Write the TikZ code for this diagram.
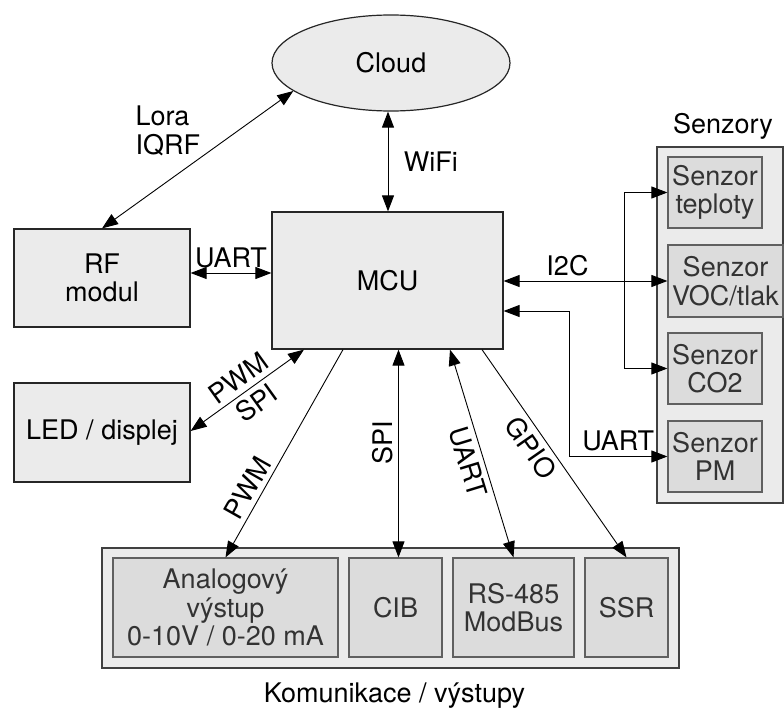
\documentclass[tikz,border=0pt]{standalone}
\usepackage{fontspec}
\setmainfont{TeX Gyre Heros}
\usepackage{tikz}
\usetikzlibrary{arrows.meta,shapes.geometric,positioning}
\definecolor{boxgray}{HTML}{EBEBEB}
\definecolor{partgray}{HTML}{DCDCDC}
\definecolor{edgegray}{HTML}{606060}

\begin{document}
\begin{tikzpicture}[x=1pt,y=1pt,
  font=\fontsize{27}{28.5}\selectfont,
  block/.style={draw=black!85,fill=boxgray,line width=1.2pt,align=center,inner sep=0pt},
  group/.style={draw=black!75,fill=boxgray,line width=1.2pt,inner sep=0pt},
  part/.style={draw=edgegray,fill=partgray,line width=1.2pt,align=center,inner sep=0pt,text=black!80},
  lbl/.style={inner sep=5pt},
  link/.style={line width=0.9pt,{Triangle[length=16pt,width=12pt]}-{Triangle[length=16pt,width=12pt]}},
  onelink/.style={line width=0.9pt,-{Triangle[length=16pt,width=12pt]}}]
\useasboundingbox (0,0) rectangle (784,-709);
\node[block,ellipse,minimum width=238pt,minimum height=96pt] (cloud) at (391,-63) {Cloud};
\node[block,minimum width=231pt,minimum height=137pt] (mcu) at (387.5,-280.5) {MCU};
\node[block,minimum width=176pt,minimum height=98pt] (rf) at (102,-278) {RF\\modul};
\node[block,minimum width=176pt,minimum height=99pt] (led) at (102,-432.5) {LED / displej};
\node[group,minimum width=126pt,minimum height=356pt] (senzory) at (720,-325) {};
\node[anchor=base] (senzorylabel) at (723,-133) {Senzory};
\node[part,minimum width=94pt,minimum height=71pt] (teplota) at (715,-192.5) {Senzor\\teploty};
\node[part,minimum width=115pt,minimum height=72pt] (voc) at (725.5,-281) {Senzor\\VOC/tlak};
\node[part,minimum width=94pt,minimum height=71pt] (co2) at (715,-368.5) {Senzor\\CO2};
\node[part,minimum width=94pt,minimum height=71pt] (pm) at (715,-456.5) {Senzor\\PM};
\node[group,minimum width=577pt,minimum height=120pt] (komunikace) at (390.5,-608) {};
\node[anchor=base] (komunikacelabel) at (394.5,-702) {Komunikace / výstupy};
\node[part,minimum width=225pt,minimum height=99pt] (analog) at (225.5,-607.5) {Analogový\\výstup\\0-10V / 0-20 mA};
\node[part,minimum width=93pt,minimum height=99pt] (cib) at (395.5,-607.5) {CIB};
\node[part,minimum width=121pt,minimum height=99pt] (modbus) at (513.5,-607.5) {RS-485\\ModBus};
\node[part,minimum width=83pt,minimum height=99pt] (ssr) at (626.5,-607.5) {SSR};
\draw[link] (cloud.196) -- (rf.north) node[pos=0.48,anchor=south east,inner sep=1pt,align=left] (lora) {Lora\\IQRF};
\draw[link] ([xshift=-3pt]cloud.south) -- ([xshift=-3pt]cloud.south |- mcu.north) node[midway,right=12pt] (wifi) {WiFi};
\draw[link] ([yshift=5pt]rf.east) -- ([yshift=5pt]rf.east -| mcu.west) node[midway,above,lbl] (uartrf) {UART};
\draw[link] ([xshift=-83.5pt]mcu.south) -- ([yshift=1.5pt]led.east) node[midway,sloped,above,lbl] (pwmled) {PWM} node[midway,sloped,below,lbl] (spiled) {SPI};
\draw[link] (mcu.east |- voc.west) -- (voc.west) node[pos=0.39,above,lbl] (i2c) {I2C};
\coordinate (bustop) at (624,-192.5);
\coordinate (busbottom) at (624,-368.5);
\draw[line width=0.9pt] (bustop) -- (busbottom);
\draw[onelink] (bustop) -- (teplota.west);
\draw[onelink] (busbottom) -- (co2.west);
\coordinate (pmbend) at (569,-456.5);
\draw[link] ([yshift=-30.5pt]mcu.east) -| (pmbend) -- (pm.west) node[midway,above,lbl] (uartpm) {UART};
\draw[onelink] ([xshift=-44.5pt]mcu.south) -- (analog.north) node[pos=0.7,sloped,above,lbl] (pwmanalog) {PWM};
\draw[link] ([xshift=3pt]cib.north) -- ([xshift=3pt]cib.north |- mcu.south) node[pos=0.55,sloped,above,lbl] (spicib) {SPI};
\draw[link] ([xshift=62.5pt]mcu.south) -- (modbus.north) node[pos=0.52,sloped,below,lbl] (uartmodbus) {UART};
\draw[onelink] ([xshift=94.5pt]mcu.south) -- (ssr.north) node[pos=0.43,sloped,below,lbl] (gpio) {GPIO};
%\draw[link] (mcu.south) -- (cib.north);
\end{tikzpicture}
\end{document}
